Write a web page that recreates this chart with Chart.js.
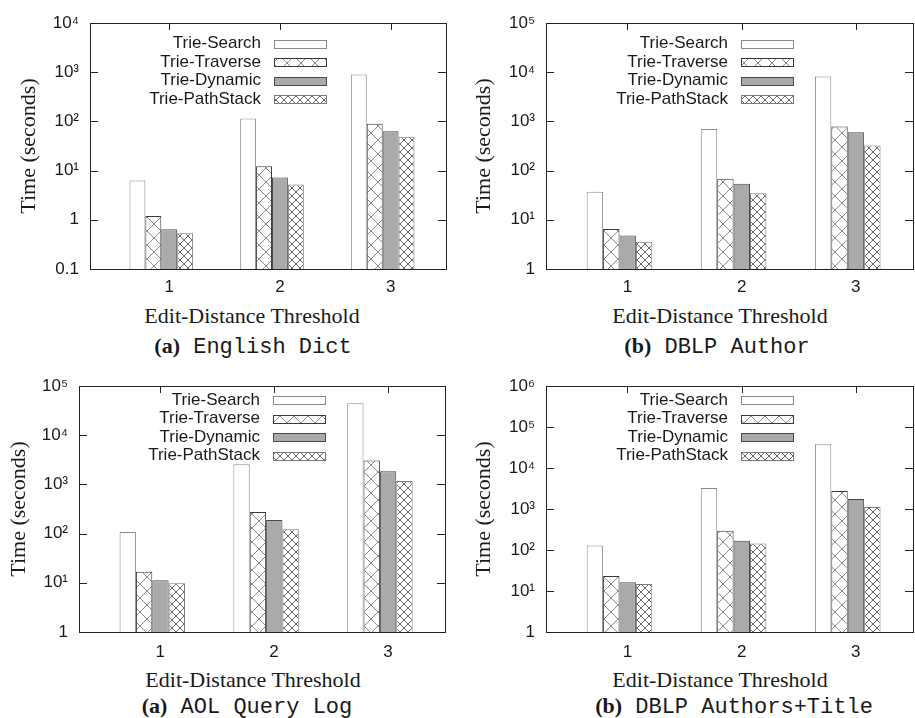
<!DOCTYPE html>
<html>
<head>
<meta charset="utf-8">
<script src="https://cdn.jsdelivr.net/npm/chart.js@4.4.1/dist/chart.umd.min.js"></script>
<style>
  html, body { margin: 0; padding: 0; background: #ffffff; }
  body { width: 915px; height: 718px; position: relative; overflow: hidden; }
  canvas { position: absolute; }
  .lbl { position: absolute; white-space: nowrap; transform: translate(-50%, -50%);
         color: #1a1a1a; font-family: "Liberation Serif", "Times New Roman", serif; font-size: 22px; line-height: 1; }
  .cap b { font-family: "Liberation Serif", "Times New Roman", serif; font-weight: bold; }
  .cap span { font-family: "Liberation Mono", "DejaVu Sans Mono", monospace; }
</style>
</head>
<body>
<canvas id="c1" width="457" height="300" style="left:0px;top:0px;width:457px;height:300px"></canvas>
<canvas id="c2" width="458" height="300" style="left:457px;top:0px;width:458px;height:300px"></canvas>
<canvas id="c3" width="457" height="300" style="left:0px;top:360px;width:457px;height:300px"></canvas>
<canvas id="c4" width="458" height="300" style="left:457px;top:360px;width:458px;height:300px"></canvas>

<div class="lbl" style="left:252px;top:316px">Edit-Distance Threshold</div>
<div class="lbl cap" style="left:253px;top:347px"><b>(a)</b><span>&nbsp;English Dict</span></div>
<div class="lbl" style="left:720px;top:316px">Edit-Distance Threshold</div>
<div class="lbl cap" style="left:717px;top:347px"><b>(b)</b><span>&nbsp;DBLP Author</span></div>
<div class="lbl" style="left:253px;top:680px">Edit-Distance Threshold</div>
<div class="lbl cap" style="left:247px;top:707px"><b>(a)</b><span>&nbsp;AOL Query Log</span></div>
<div class="lbl" style="left:720px;top:680px">Edit-Distance Threshold</div>
<div class="lbl cap" style="left:734px;top:707px"><b>(b)</b><span>&nbsp;DBLP Authors+Title</span></div>

<script>
// ---------------- data ----------------
const thresholds = [1, 2, 3];
const seriesNames = ['Trie-Search', 'Trie-Traverse', 'Trie-Dynamic', 'Trie-PathStack'];

// (a) English Dict
const dictSearch    = [6.3, 114, 895];
const dictTraverse  = [1.19, 12.3, 90];
const dictDynamic   = [0.64, 7.2, 63];
const dictPathStack = [0.53, 5.2, 49];
// (b) DBLP Author
const authorSearch    = [37, 700, 8200];
const authorTraverse  = [6.5, 68, 785];
const authorDynamic   = [4.8, 54, 600];
const authorPathStack = [3.6, 34.6, 322];
// (a) AOL Query Log
const aolSearch    = [108, 2580, 44500];
const aolTraverse  = [16.7, 275, 3060];
const aolDynamic   = [11.3, 189, 1860];
const aolPathStack = [9.8, 122, 1170];
// (b) DBLP Authors+Title
const titleSearch    = [129, 3250, 38200];
const titleTraverse  = [23.2, 293, 2750];
const titleDynamic   = [16.3, 168, 1760];
const titlePathStack = [14.8, 144, 1120];

// y tick values and labels
const yTicksDict   = [0.1, 1, 10, 100, 1000, 10000];
const yLabelsDict  = ['0.1', '1', '10¹', '10²', '10³', '10⁴'];
const yTicks5      = [1, 10, 100, 1000, 10000, 100000];
const yLabels5     = ['1', '10¹', '10²', '10³', '10⁴', '10⁵'];
const yTicks6      = [1, 10, 100, 1000, 10000, 100000, 1000000];
const yLabels6     = ['1', '10¹', '10²', '10³', '10⁴', '10⁵', '10⁶'];

const yTitle = 'Time (seconds)';

// ---------------- styling helpers ----------------
const TXT = '#1a1a1a';
const SANS = '"Liberation Sans", Arial, Helvetica, sans-serif';
const SERIF = '"Liberation Serif", "Times New Roman", serif';

function hatch(ctx, size, color) {
  const c = document.createElement('canvas');
  c.width = size; c.height = size;
  const g = c.getContext('2d');
  g.fillStyle = '#ffffff';
  g.fillRect(0, 0, size, size);
  g.strokeStyle = color;
  g.lineWidth = 1;
  g.beginPath();
  g.moveTo(-1, -1); g.lineTo(size + 1, size + 1);
  g.moveTo(size + 1, -1); g.lineTo(-1, size + 1);
  g.stroke();
  return ctx.createPattern(c, 'repeat');
}

const framePlugin = {
  id: 'frame',
  beforeDatasetsDraw(chart, args, opts) {
    const { ctx, chartArea: a, scales: { x, y } } = chart;
    ctx.save();
    ctx.strokeStyle = '#222';
    ctx.lineWidth = 1;
    ctx.beginPath();
    y.ticks.forEach(t => {
      const py = Math.round(y.getPixelForValue(t.value)) + 0.5;
      ctx.moveTo(a.left, py); ctx.lineTo(a.left + 8, py);
      ctx.moveTo(a.right, py); ctx.lineTo(a.right - 8, py);
    });
    x.ticks.forEach(t => {
      const px = Math.round(x.getPixelForValue(t.value) + opts.shift) + 0.5;
      ctx.moveTo(px, a.top); ctx.lineTo(px, a.top + 7);
      ctx.moveTo(px, a.bottom); ctx.lineTo(px, a.bottom - 7);
    });
    ctx.stroke();
    ctx.restore();
  },
  afterDatasetsDraw(chart, args, opts) {
    const { ctx, chartArea: a } = chart;
    ctx.save();
    ctx.strokeStyle = '#222';
    ctx.lineWidth = 1;
    ctx.strokeRect(Math.round(a.left) + 0.5, Math.round(a.top) + 0.5,
                   Math.round(a.right - a.left), Math.round(a.bottom - a.top));
    // legend (text right-aligned, swatch on the right)
    const swRight = a.right - 120, swW = 52, swH = 8;
    const swLeft = swRight - swW;
    ctx.font = '17px ' + SANS;
    ctx.textAlign = 'right';
    ctx.textBaseline = 'middle';
    chart.data.datasets.forEach((ds, i) => {
      const cy = a.top + opts.legendTop + i * 18.5;
      ctx.fillStyle = TXT;
      ctx.fillText(ds.label, swLeft - 13, cy);
      ctx.fillStyle = ds.backgroundColor;
      const ry = Math.round(cy - swH / 2) + 0.5;
      ctx.fillRect(Math.round(swLeft) + 0.5, ry, swW, swH);
      ctx.strokeStyle = ds.borderColor;
      ctx.strokeRect(Math.round(swLeft) + 0.5, ry, swW, swH);
    });
    ctx.restore();
  }
};

function makePanel(id, g, series, yTicks, yLabels) {
  const canvas = document.getElementById(id);
  const ctx = canvas.getContext('2d');
  const fills = ['#ffffff', hatch(ctx, 14, '#8a8a8a'), '#aaaaaa', hatch(ctx, 8, '#666666')];
  const borders = ['#8a8a8a', '#3a3a3a', '#4a4a4a', '#7a7a7a'];
  const datasets = series.map((vals, i) => ({
    label: seriesNames[i],
    data: thresholds.map((t, j) => ({ x: t, y: vals[j] })),
    backgroundColor: fills[i],
    borderColor: borders[i],
    borderWidth: 1,
    barPercentage: 1.0,
    categoryPercentage: 0.575
  }));
  new Chart(ctx, {
    type: 'bar',
    data: { datasets },
    options: {
      responsive: false,
      animation: false,
      devicePixelRatio: 1,
      layout: { padding: { left: 0, top: g.top, right: g.w - g.right, bottom: 0 } },
      plugins: {
        legend: { display: false },
        tooltip: { enabled: false },
        frame: { shift: 8, legendTop: g.legendTop }
      },
      scales: {
        x: {
          type: 'linear',
          offset: false,
          min: 0.356, max: 3.572,
          grid: { display: false, drawTicks: false, offset: false },
          border: { display: false },
          afterBuildTicks: s => { s.ticks = thresholds.map(v => ({ value: v })); },
          afterFit: s => { s.height = g.h - g.bottom; },
          ticks: {
            callback: v => String(v),
            font: { family: SANS, size: 17 },
            color: TXT,
            padding: g.xPad,
            labelOffset: 8,
            maxRotation: 0, autoSkip: false
          }
        },
        y: {
          type: 'logarithmic',
          min: yTicks[0], max: yTicks[yTicks.length - 1],
          grid: { display: false, drawTicks: false },
          border: { display: false },
          afterBuildTicks: s => { s.ticks = yTicks.map(v => ({ value: v })); },
          afterFit: s => { s.width = g.left; },
          ticks: {
            callback: v => yLabels[yTicks.indexOf(v)],
            font: { family: SANS, size: 17 },
            color: TXT,
            padding: 11,
            autoSkip: false
          },
          title: {
            display: true,
            text: yTitle,
            font: { family: SERIF, size: 22 },
            color: TXT,
            padding: { top: g.titlePad, bottom: 0 }
          }
        }
      }
    },
    plugins: [framePlugin]
  });
}

makePanel('c1', { w: 457, h: 300, left: 90, right: 446, top: 23, bottom: 269, xPad: 8, legendTop: 20.5, titlePad: 16 },
  [dictSearch, dictTraverse, dictDynamic, dictPathStack], yTicksDict, yLabelsDict);
makePanel('c2', { w: 458, h: 300, left: 89, right: 456, top: 23, bottom: 269, xPad: 8, legendTop: 20.5, titlePad: 14 },
  [authorSearch, authorTraverse, authorDynamic, authorPathStack], yTicks5, yLabels5);
makePanel('c3', { w: 457, h: 300, left: 79, right: 445, top: 26, bottom: 272, xPad: 10, legendTop: 14, titlePad: 6 },
  [aolSearch, aolTraverse, aolDynamic, aolPathStack], yTicks5, yLabels5);
makePanel('c4', { w: 458, h: 300, left: 89, right: 456, top: 26, bottom: 272, xPad: 10, legendTop: 14, titlePad: 14 },
  [titleSearch, titleTraverse, titleDynamic, titlePathStack], yTicks6, yLabels6);
</script>
</body>
</html>
